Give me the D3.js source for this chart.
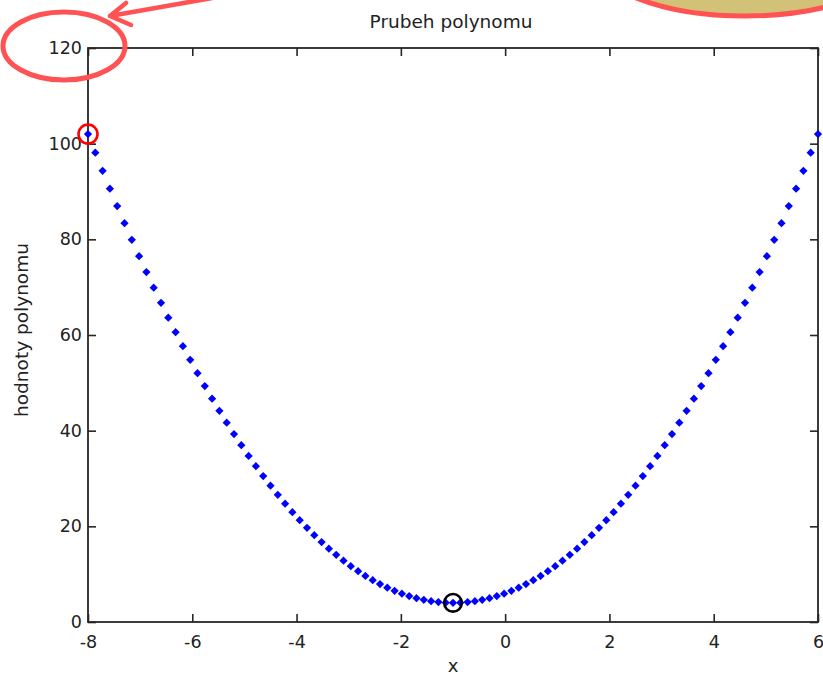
<!DOCTYPE html>
<html>
<head>
<meta charset="utf-8">
<script src="https://cdn.jsdelivr.net/npm/d3@7"></script>
<style>
  html, body { margin: 0; padding: 0; background: #ffffff; }
  svg { display: block; }
  text { font-family: "DejaVu Sans", sans-serif; fill: #222; }
</style>
</head>
<body>
<svg id="chart" width="823" height="677"></svg>
<script>
// Sample points of the polynomial p(x) = 2x^2 + 4x + 6 on [-8, 6]
const xValues = [
  -8, -7.86, -7.72, -7.58, -7.44, -7.3, -7.16, -7.02, -6.88, -6.74,
  -6.6, -6.46, -6.32, -6.18, -6.04, -5.9, -5.76, -5.62, -5.48, -5.34,
  -5.2, -5.06, -4.92, -4.78, -4.64, -4.5, -4.36, -4.22, -4.08, -3.94,
  -3.8, -3.66, -3.52, -3.38, -3.24, -3.1, -2.96, -2.82, -2.68, -2.54,
  -2.4, -2.26, -2.12, -1.98, -1.84, -1.7, -1.56, -1.42, -1.28, -1.14,
  -1, -0.86, -0.72, -0.58, -0.44, -0.3, -0.16, -0.02, 0.12, 0.26,
  0.4, 0.54, 0.68, 0.82, 0.96, 1.1, 1.24, 1.38, 1.52, 1.66,
  1.8, 1.94, 2.08, 2.22, 2.36, 2.5, 2.64, 2.78, 2.92, 3.06,
  3.2, 3.34, 3.48, 3.62, 3.76, 3.9, 4.04, 4.18, 4.32, 4.46,
  4.6, 4.74, 4.88, 5.02, 5.16, 5.3, 5.44, 5.58, 5.72, 5.86, 6
];
const yValues = [
  102.00, 98.12, 94.32, 90.59, 86.95, 83.38, 79.89, 76.48, 73.15, 69.90,
  66.72, 63.62, 60.60, 57.66, 54.80, 52.02, 49.32, 46.69, 44.14, 41.67,
  39.28, 36.97, 34.73, 32.58, 30.50, 28.50, 26.58, 24.74, 22.97, 21.29,
  19.68, 18.15, 16.70, 15.33, 14.04, 12.82, 11.68, 10.62, 9.64, 8.74,
  7.92, 7.18, 6.51, 5.92, 5.41, 4.98, 4.63, 4.35, 4.16, 4.04,
  4.00, 4.04, 4.16, 4.35, 4.63, 4.98, 5.41, 5.92, 6.51, 7.18,
  7.92, 8.74, 9.64, 10.62, 11.68, 12.82, 14.04, 15.33, 16.70, 18.15,
  19.68, 21.29, 22.97, 24.74, 26.58, 28.50, 30.50, 32.58, 34.73, 36.97,
  39.28, 41.67, 44.14, 46.69, 49.32, 52.02, 54.80, 57.66, 60.60, 63.62,
  66.72, 69.90, 73.15, 76.48, 79.89, 83.38, 86.95, 90.59, 94.32, 98.12, 102.00
];
// Highlighted points: maximum at the left end, minimum of the polynomial
const maxPoint = { x: -8, y: 102 };
const minPoint = { x: -1, y: 4 };

const xTicks = [-8, -6, -4, -2, 0, 2, 4, 6];
const yTicks = [0, 20, 40, 60, 80, 100, 120];

const titleText = "Prubeh polynomu";
const xLabelText = "x";
const yLabelText = "hodnoty polynomu";

const svg = d3.select("#chart");
const plot = { left: 88, right: 818, top: 48, bottom: 622 };

const x = d3.scaleLinear().domain([-8, 6]).range([plot.left, plot.right]);
const y = d3.scaleLinear().domain([0, 120]).range([plot.bottom, plot.top]);

const axisColor = "#262626";
const tickLen = 8;
const plainFormat = d => String(d); // ASCII hyphen for negatives

// Bottom axis with labels, ticks pointing inward
const gx = svg.append("g")
  .attr("transform", `translate(0,${plot.bottom})`)
  .call(d3.axisBottom(x).tickValues(xTicks).tickSize(-tickLen).tickPadding(tickLen + 6).tickFormat(plainFormat));
// Left axis with labels
const gy = svg.append("g")
  .attr("transform", `translate(${plot.left},0)`)
  .call(d3.axisLeft(y).tickValues(yTicks).tickSize(-tickLen).tickPadding(6).tickFormat(plainFormat));
// Top and right axes: ticks only
const gt = svg.append("g")
  .attr("transform", `translate(0,${plot.top})`)
  .call(d3.axisTop(x).tickValues(xTicks).tickSize(-tickLen).tickFormat(""));
const gr = svg.append("g")
  .attr("transform", `translate(${plot.right},0)`)
  .call(d3.axisRight(y).tickValues(yTicks).tickSize(-tickLen).tickFormat(""));

[gx, gy, gt, gr].forEach(g => {
  g.select(".domain").remove();
  g.selectAll(".tick line").attr("stroke", axisColor).attr("stroke-width", 1.6);
  g.selectAll(".tick text").attr("font-family", "DejaVu Sans, sans-serif")
    .attr("font-size", 17.5).attr("fill", "#222");
});

// Box around the plot area
svg.append("rect")
  .attr("x", plot.left).attr("y", plot.top)
  .attr("width", plot.right - plot.left).attr("height", plot.bottom - plot.top)
  .attr("fill", "none").attr("stroke", axisColor).attr("stroke-width", 1.8);

// Data markers: small blue diamonds
const pts = xValues.map((d, i) => ({ x: d, y: yValues[i] }));
const diamond = d3.symbol().type(d3.symbolSquare).size(34);
svg.append("g").selectAll("path")
  .data(pts)
  .join("path")
  .attr("d", diamond)
  .attr("transform", d => `translate(${x(d.x)},${y(d.y)}) rotate(45)`)
  .attr("fill", "#0000ff");

// Circles around the extreme points
svg.append("circle")
  .attr("cx", x(maxPoint.x)).attr("cy", y(maxPoint.y)).attr("r", 9.5)
  .attr("fill", "none").attr("stroke", "#ff0000").attr("stroke-width", 2.6);
svg.append("circle")
  .attr("cx", x(minPoint.x)).attr("cy", y(minPoint.y)).attr("r", 8.8)
  .attr("fill", "none").attr("stroke", "#000000").attr("stroke-width", 2.6);

// Title and axis labels
svg.append("text")
  .attr("x", 451).attr("y", 28)
  .attr("text-anchor", "middle").attr("font-size", 18.5)
  .text(titleText);
svg.append("text")
  .attr("x", x(-1)).attr("y", 672)
  .attr("text-anchor", "middle").attr("font-size", 18)
  .text(xLabelText);
svg.append("text")
  .attr("transform", `translate(28,${(plot.top + plot.bottom) / 2 - 5}) rotate(-90)`)
  .attr("text-anchor", "middle").attr("font-size", 18.5)
  .text(yLabelText);

// Callout: tan bubble in the top-right corner with an arrow to a ring around the top y label
const callout = svg.append("g");
callout.append("ellipse")
  .attr("cx", 745).attr("cy", -44).attr("rx", 152).attr("ry", 60)
  .attr("fill", "#d2c278").attr("stroke", "#ff5252").attr("stroke-width", 5);
callout.append("ellipse")
  .attr("cx", 64).attr("cy", 46).attr("rx", 61).attr("ry", 34)
  .attr("fill", "none").attr("stroke", "#ff5252").attr("stroke-width", 5);
callout.append("path")
  .attr("d", "M212,-2 L110,16 M126,3 L110,16 L131,25")
  .attr("fill", "none").attr("stroke", "#ff5252").attr("stroke-width", 4.5)
  .attr("stroke-linecap", "round").attr("stroke-linejoin", "round");
</script>
</body>
</html>
